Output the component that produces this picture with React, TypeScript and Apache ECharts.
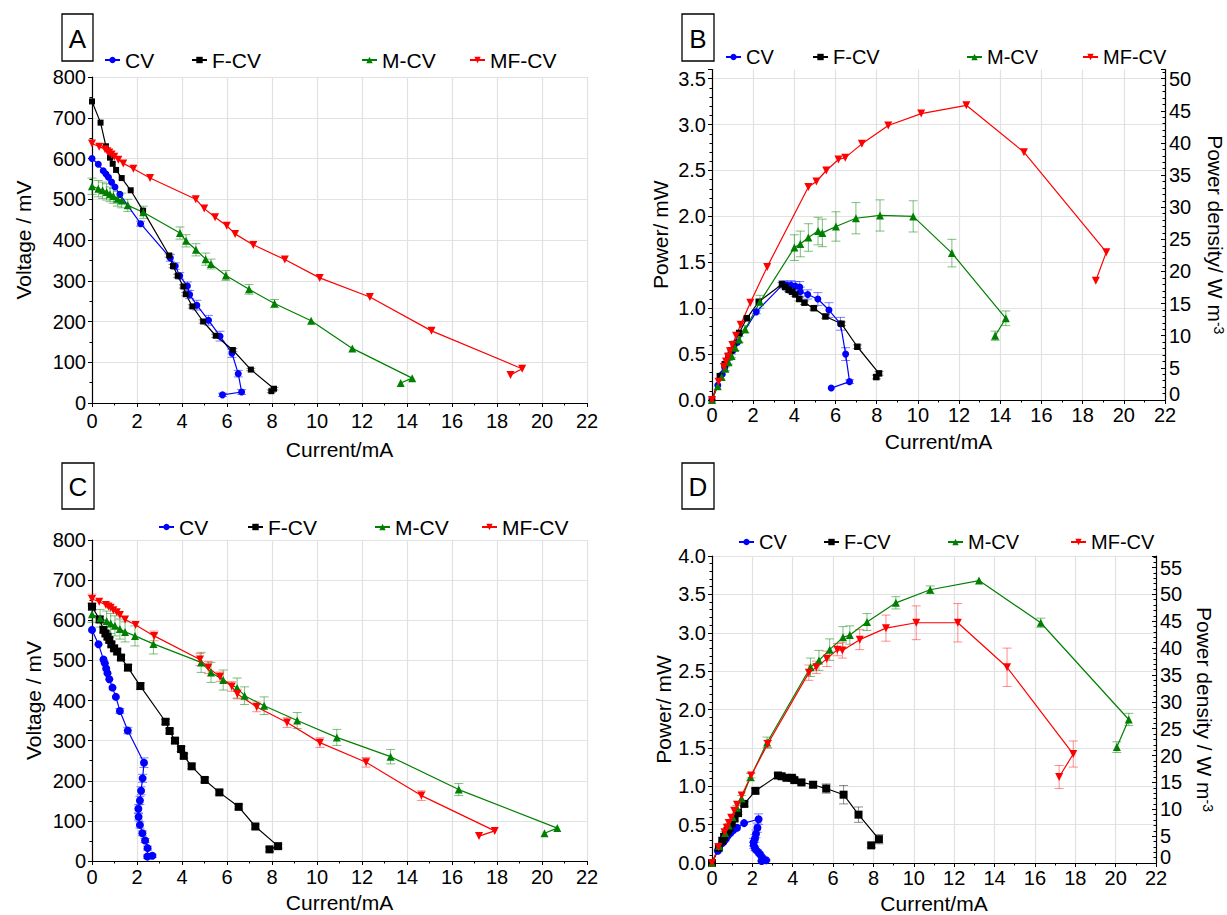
import React, { useEffect, useRef } from "react";
import * as echarts from "echarts";

const FONT = '"Liberation Sans", Arial, Helvetica, sans-serif';

// ---------- DATA: [current mA, value, error] ----------
// Panel A: polarisation curves (voltage mV)
const A_CV = [[0,600,0],[0.28,586,0],[0.5,570,0],[0.62,562,0],[0.73,554,0],[0.87,542,0],[1.02,530,0],[1.24,512,0],[2.16,440,6],[3.48,356,8],[3.7,336,8],[3.9,312,8],[4.24,287,10],[4.34,266,10],[4.66,240,12],[5.18,203,12],[5.69,164,12],[6.22,122,10],[6.5,72,8],[6.65,27,6],[5.8,20,4]];
const A_FCV = [[0,740,0],[0.38,688,0],[0.62,630,0],[0.8,602,0],[0.92,587,0],[1.07,572,0],[1.32,552,0],[1.72,522,0],[2.27,472,0],[3.43,362,4],[3.6,336,4],[3.81,312,4],[4.06,286,4],[4.17,267,4],[4.46,237,4],[4.94,200,4],[5.5,165,4],[6.26,130,4],[7.06,82,3],[8.09,35,3],[7.97,29,3]];
const A_MCV = [[0,532,20],[0.28,526,20],[0.47,522,20],[0.65,518,20],[0.8,512,18],[0.95,508,18],[1.13,501,18],[1.32,497,18],[1.59,485,15],[2.28,468,15],[3.91,417,15],[4.18,398,15],[4.62,376,15],[5.05,353,15],[5.29,341,12],[5.95,313,12],[6.98,279,12],[8.11,244,10],[9.74,202,0],[11.57,134,0],[14.23,61,0],[13.72,49,0]];
const A_MFCV = [[0,637,0],[0.32,629,0],[0.58,623,0],[0.68,618,0],[0.77,615,0],[0.87,610,0],[0.99,604,0],[1.17,597,0],[1.39,588,0],[1.84,575,0],[2.58,552,0],[4.61,500,0],[4.99,477,0],[5.47,456,0],[5.99,435,0],[6.36,415,0],[7.17,388,0],[8.57,352,0],[10.12,307,0],[12.35,260,0],[15.09,177,0],[19.12,84,0],[18.6,69,0]];

// Panel B: power curves (mW)
const B_CV = [[0,0,0],[0.28,0.16,0],[0.5,0.28,0],[0.62,0.35,0],[0.73,0.4,0],[0.87,0.47,0],[1.02,0.54,0],[1.24,0.63,0],[2.15,0.96,0.02],[3.45,1.26,0.04],[3.65,1.25,0.04],[3.84,1.25,0.05],[4.05,1.24,0.05],[4.26,1.23,0.06],[4.29,1.18,0.05],[4.65,1.15,0.05],[5.14,1.1,0.07],[5.68,0.98,0.08],[6.24,0.83,0.07],[6.49,0.5,0.07],[6.68,0.2,0.02],[5.79,0.13,0]];
const B_FCV = [[0,0,0],[0.38,0.26,0],[0.62,0.39,0],[0.8,0.48,0],[0.92,0.54,0],[1.07,0.61,0],[1.32,0.73,0],[1.69,0.89,0],[2.27,1.07,0],[3.4,1.26,0.02],[3.56,1.23,0.02],[3.72,1.2,0.02],[3.89,1.18,0.02],[4.05,1.15,0.02],[4.24,1.1,0.02],[4.49,1.06,0.02],[4.94,1.0,0.02],[5.51,0.91,0.02],[6.29,0.83,0.02],[7.06,0.58,0.02],[8.11,0.29,0.02],[7.98,0.25,0.02]];
const B_MCV = [[0,0,0],[0.28,0.15,0],[0.47,0.25,0],[0.65,0.34,0.02],[0.8,0.41,0.02],[0.95,0.48,0.02],[1.13,0.57,0.03],[1.32,0.66,0.03],[1.61,0.77,0.04],[2.33,1.07,0.07],[4.0,1.66,0.14],[4.29,1.7,0.14],[4.68,1.77,0.15],[5.15,1.84,0.15],[5.36,1.82,0.15],[6.02,1.89,0.16],[6.99,1.98,0.17],[8.16,2.01,0.17],[9.77,2.0,0.17],[11.65,1.6,0.15],[14.27,0.89,0.08],[13.75,0.7,0.05]];
const B_MFCV = [[0,0,0],[0.32,0.2,0],[0.58,0.36,0],[0.68,0.42,0],[0.77,0.47,0],[0.87,0.53,0],[0.99,0.6,0],[1.17,0.7,0],[1.39,0.82,0],[1.86,1.06,0],[2.68,1.45,0],[4.68,2.32,0],[5.07,2.38,0],[5.55,2.5,0],[6.14,2.62,0],[6.47,2.64,0],[7.28,2.79,0],[8.56,2.99,0],[10.16,3.12,0],[12.35,3.21,0],[15.15,2.7,0],[19.15,1.61,0],[18.64,1.3,0]];

// Panel C: polarisation curves (voltage mV)
const C_CV = [[0,576,0],[0.29,540,0],[0.51,502,0],[0.57,493,0],[0.63,480,0],[0.69,468,0],[0.77,453,0],[0.91,432,0],[1.06,409,0],[1.24,374,6],[1.59,325,8],[2.31,245,12],[2.25,206,10],[2.18,175,10],[2.13,151,10],[2.06,130,10],[2.07,110,8],[2.13,90,8],[2.24,69,6],[2.36,51,5],[2.47,32,5],[2.46,11,4],[2.68,13,4]];
const C_FCV = [[0,634,8],[0.34,602,8],[0.51,576,6],[0.6,567,6],[0.69,559,6],[0.77,551,6],[0.86,540,6],[0.98,530,6],[1.12,522,6],[1.29,507,6],[1.6,482,8],[2.15,436,8],[3.27,347,6],[3.45,324,6],[3.69,300,6],[3.96,279,6],[4.08,262,6],[4.43,236,6],[5.01,202,6],[5.66,171,6],[6.52,135,6],[7.26,86,6],[8.27,37,5],[7.89,29,5]];
const C_MCV = [[0,615,20],[0.36,605,22],[0.65,598,25],[0.83,592,25],[1.02,586,25],[1.24,578,25],[1.47,571,25],[1.91,561,25],[2.73,541,25],[4.85,495,25],[5.29,470,25],[5.83,451,25],[6.45,431,25],[6.78,412,22],[7.65,387,22],[9.12,350,20],[10.88,308,20],[13.27,260,18],[16.3,178,15],[20.68,82,0],[20.11,69,0]];
const C_MFCV = [[0,653,12],[0.32,646,0],[0.62,638,0],[0.73,634,0],[0.83,631,0],[0.95,625,0],[1.1,620,0],[1.24,613,0],[1.47,602,0],[1.94,588,0],[2.76,561,12],[4.8,502,15],[5.17,482,15],[5.69,459,12],[6.21,435,12],[6.46,416,12],[7.32,384,12],[8.67,345,12],[10.13,295,12],[12.18,246,12],[14.64,163,12],[17.9,75,0],[17.2,62,0]];

// Panel D: power curves (mW)
const D_CV = [[0,0,0],[0.29,0.16,0],[0.51,0.26,0],[0.57,0.28,0],[0.63,0.3,0],[0.69,0.32,0],[0.77,0.35,0],[0.91,0.39,0],[1.06,0.43,0],[1.24,0.46,0],[1.59,0.52,0],[2.31,0.57,0.07],[2.25,0.46,0.06],[2.18,0.38,0.05],[2.13,0.32,0.05],[2.06,0.27,0.05],[2.07,0.23,0.04],[2.13,0.19,0.03],[2.24,0.155,0.02],[2.36,0.12,0.02],[2.47,0.08,0.01],[2.46,0.027,0.01],[2.68,0.035,0.01]];
const D_FCV = [[0,0,0],[0.34,0.2,0],[0.51,0.29,0],[0.6,0.34,0],[0.69,0.39,0],[0.77,0.42,0],[0.86,0.46,0],[0.98,0.52,0],[1.12,0.58,0],[1.29,0.65,0.02],[1.6,0.77,0.03],[2.15,0.94,0.03],[3.27,1.14,0.03],[3.45,1.13,0.03],[3.69,1.11,0.03],[3.96,1.11,0.03],[4.08,1.08,0.03],[4.43,1.05,0.03],[5.01,1.02,0.04],[5.66,0.97,0.06],[6.52,0.89,0.12],[7.26,0.63,0.1],[8.27,0.31,0.06],[7.89,0.23,0.03]];
const D_MCV = [[0,0,0],[0.36,0.22,0],[0.65,0.39,0.02],[0.83,0.49,0.02],[1.02,0.6,0.03],[1.24,0.72,0.03],[1.47,0.84,0.04],[1.91,1.12,0.05],[2.73,1.57,0.07],[4.88,2.55,0.12],[5.3,2.64,0.13],[5.83,2.78,0.14],[6.49,2.94,0.14],[6.83,2.97,0.12],[7.68,3.14,0.11],[9.11,3.39,0.08],[10.81,3.56,0.05],[13.23,3.68,0],[16.29,3.13,0.06],[20.65,1.87,0.08],[20.06,1.51,0.07]];
const D_MFCV = [[0,0,0],[0.32,0.21,0],[0.62,0.4,0],[0.73,0.46,0],[0.83,0.52,0],[0.95,0.59,0],[1.1,0.68,0],[1.24,0.76,0],[1.47,0.88,0],[1.94,1.14,0.03],[2.76,1.55,0.05],[4.8,2.48,0.1],[5.17,2.55,0.08],[5.69,2.66,0.1],[6.21,2.78,0.08],[6.46,2.77,0.1],[7.32,2.91,0.13],[8.62,3.06,0.17],[10.12,3.13,0.22],[12.18,3.13,0.25],[14.62,2.55,0.25],[17.9,1.42,0.17],[17.2,1.12,0.15]];

const SERIES_NAMES = ["CV", "F-CV", "M-CV", "MF-CV"];
const PANEL_LETTERS = ["A", "B", "C", "D"];
const CHAMBER_VOLUME_M3 = 70e-6; // right axis: power density = P / volume

const COLORS: Record<string, string> = { CV: "#0000ff", "F-CV": "#000000", "M-CV": "#008000", "MF-CV": "#ff0000" };
const ERR_COLORS: Record<string, string> = { CV: "rgba(40,40,255,0.6)", "F-CV": "rgba(0,0,0,0.45)", "M-CV": "rgba(0,128,0,0.5)", "MF-CV": "rgba(255,0,0,0.45)" };
const SYMBOLS: Record<string, string> = { CV: "circle", "F-CV": "rect", "M-CV": "triangle", "MF-CV": "triangle" };

function errItem(params: any, api: any) {
  const x = api.value(0), y = api.value(1), e = api.value(2);
  if (!e) return { type: "group", children: [] };
  const hi = api.coord([x, y + e]);
  const lo = api.coord([x, y - e]);
  const w = 4.5;
  const style = { stroke: api.visual("color"), lineWidth: 1 };
  return {
    type: "group",
    children: [
      { type: "line", shape: { x1: hi[0], y1: hi[1], x2: lo[0], y2: lo[1] }, style },
      { type: "line", shape: { x1: hi[0] - w, y1: hi[1], x2: hi[0] + w, y2: hi[1] }, style },
      { type: "line", shape: { x1: lo[0] - w, y1: lo[1], x2: lo[0] + w, y2: lo[1] }, style },
    ],
  };
}

function buildOption() {
  const panels = [
    { data: [A_CV, A_FCV, A_MCV, A_MFCV], grid: { left: 92, top: 77, width: 495, height: 326 }, power: false, sizes: [7, 6, 8, 8], xGap: 36, xMargin: 8, yGap: 58, legendX: [104, 191, 361, 469], legendY: 60, legendFont: 21, box: [62, 14, 31, 47] },
    { data: [B_CV, B_FCV, B_MCV, B_MFCV], grid: { left: 712, top: 69.5, width: 453, height: 330.5 }, power: true, pMax: 3.6, sizes: [7, 6.5, 8, 8], xGap: 31, xMargin: 5, yGap: 41, rGap: 40, legendX: [725, 812, 966, 1082], legendY: 57, legendFont: 20, box: [682, 14, 32, 47] },
    { data: [C_CV, C_FCV, C_MCV, C_MFCV], grid: { left: 92, top: 540, width: 495, height: 321 }, power: false, sizes: [8, 8, 8, 8], xGap: 31, xMargin: 6, yGap: 48, legendX: [158, 247, 374, 481], legendY: 527, legendFont: 21, box: [62, 463, 32, 46] },
    { data: [D_CV, D_FCV, D_MCV, D_MFCV], grid: { left: 712, top: 556, width: 444, height: 308 }, power: true, pMax: 4.0, sizes: [8, 8, 8, 8], xGap: 30, xMargin: 5, yGap: 37, rGap: 38, legendX: [738, 823, 947, 1070], legendY: 542, legendFont: 20, box: [682, 463, 32, 46] },
  ];

  const grid: any[] = [];
  const xAxis: any[] = [];
  const yAxis: any[] = [];
  const series: any[] = [];
  const legend: any[] = [];
  const graphic: any[] = [];

  const axisLineStyle = { color: "#000", width: 1.2 };
  const labelStyle = { fontSize: 20, color: "#000", fontFamily: FONT };
  const nameStyle = { fontSize: 21, color: "#000", fontFamily: FONT };
  const splitStyle = { color: "#e2e2e2", width: 1.2 };

  panels.forEach((p, gi) => {
    grid.push({ ...p.grid, containLabel: false });
    xAxis.push({
      type: "value", gridIndex: gi, min: 0, max: 22, interval: 2,
      name: "Current/mA", nameLocation: "middle", nameGap: p.xGap, nameTextStyle: nameStyle,
      axisLine: { show: true, onZero: false, lineStyle: axisLineStyle },
      axisTick: { show: true, length: 4, lineStyle: { color: "#000" } },
      minorTick: { show: true, splitNumber: 2, length: 2.5, lineStyle: { color: "#000" } },
      axisLabel: { ...labelStyle, margin: p.xMargin },
      splitLine: { show: true, lineStyle: splitStyle },
    });
    const yIndex = yAxis.length;
    if (!p.power) {
      yAxis.push({
        type: "value", gridIndex: gi, min: 0, max: 800, interval: 100,
        name: "Voltage / mV", nameLocation: "middle", nameGap: p.yGap, nameTextStyle: nameStyle,
        axisLine: { show: true, onZero: false, lineStyle: axisLineStyle },
        axisTick: { show: true, length: 4, lineStyle: { color: "#000" } },
        minorTick: { show: true, splitNumber: 2, length: 2.5, lineStyle: { color: "#000" } },
        axisLabel: { ...labelStyle, margin: 6 },
        splitLine: { show: true, lineStyle: splitStyle },
      });
    } else {
      const pMax = p.pMax as number;
      yAxis.push({
        type: "value", gridIndex: gi, min: 0, max: pMax, interval: 0.5,
        name: "Power/ mW", nameLocation: "middle", nameGap: p.yGap, nameTextStyle: nameStyle,
        axisLine: { show: true, onZero: false, lineStyle: axisLineStyle },
        axisTick: { show: true, length: 4, lineStyle: { color: "#000" } },
        minorTick: { show: true, splitNumber: 5, length: 2.5, lineStyle: { color: "#000" } },
        axisLabel: { ...labelStyle, margin: 6, showMaxLabel: pMax % 0.5 === 0, formatter: (v: number) => v.toFixed(1) },
        splitLine: { show: true, showMaxLine: pMax % 0.5 === 0, lineStyle: splitStyle },
      });
      const densMax = pMax / 1000 / CHAMBER_VOLUME_M3;
      yAxis.push({
        type: "value", gridIndex: gi, position: "right", min: 0, max: densMax, interval: 5,
        name: gi === 1 ? "Power density/ W m{sup|-3}" : "Power density / W m{sup|-3}",
        nameLocation: "middle", nameGap: p.rGap, nameRotate: -90,
        nameTextStyle: { ...nameStyle, rich: { sup: { fontSize: 14, fontFamily: FONT, color: "#000", verticalAlign: "top", lineHeight: 14 } } },
        axisLine: { show: true, onZero: false, lineStyle: axisLineStyle },
        axisTick: { show: true, inside: true, length: 4, lineStyle: { color: "#000" } },
        minorTick: { show: true, splitNumber: 5, length: 2.5, lineStyle: { color: "#000" } },
        axisLabel: {
          ...labelStyle, margin: 4, showMaxLabel: false,
          formatter: (v: number) => (v === 0 ? "{z|0}" : String(v)),
          rich: { z: { fontSize: 20, fontFamily: FONT, color: "#000", padding: [0, 0, 12, 0] } },
        },
        splitLine: { show: false },
      });
    }

    p.data.forEach((d, si) => {
      const name = SERIES_NAMES[si];
      series.push({
        type: "custom", name: "err" + gi + "_" + si, xAxisIndex: gi, yAxisIndex: yIndex,
        renderItem: errItem, data: d, encode: { x: 0, y: 1 },
        itemStyle: { color: ERR_COLORS[name] }, z: 1, silent: true,
      });
      series.push({
        type: "line", name, xAxisIndex: gi, yAxisIndex: yIndex, data: d,
        encode: { x: 0, y: 1 },
        symbol: SYMBOLS[name], symbolSize: p.sizes[si], symbolRotate: name === "MF-CV" ? 180 : 0,
        showAllSymbol: true,
        lineStyle: { color: COLORS[name], width: 1.2 },
        itemStyle: { color: COLORS[name] },
        z: 3,
      });
      legend.push({
        data: [name], left: p.legendX[si], top: p.legendY - 12, padding: 0,
        itemWidth: 15, itemHeight: 8, selectedMode: false,
        textStyle: { fontSize: p.legendFont, color: "#000", fontFamily: FONT, lineHeight: 24 },
      });
    });

    const [bx, by, bw, bh] = p.box;
    graphic.push({ type: "rect", shape: { x: bx, y: by, width: bw, height: bh }, style: { fill: "#fff", stroke: "#000", lineWidth: 1.3 } });
    graphic.push({ type: "text", x: bx + bw / 2, y: by + bh / 2 + 1, style: { text: PANEL_LETTERS[gi], font: `26px ${FONT}`, fill: "#000", textAlign: "center", textVerticalAlign: "middle" } });
  });

  return { animation: false, backgroundColor: "#fff", grid, xAxis, yAxis, series, legend, graphic };
}

export default function App() {
  const ref = useRef<HTMLDivElement>(null);
  useEffect(() => {
    const chart = echarts.init(ref.current!, null, { renderer: "svg" });
    chart.setOption(buildOption() as any);
    return () => chart.dispose();
  }, []);
  return <div ref={ref} style={{ position: "fixed", left: 0, top: 0, width: 1227, height: 915, background: "#fff" }} />;
}
